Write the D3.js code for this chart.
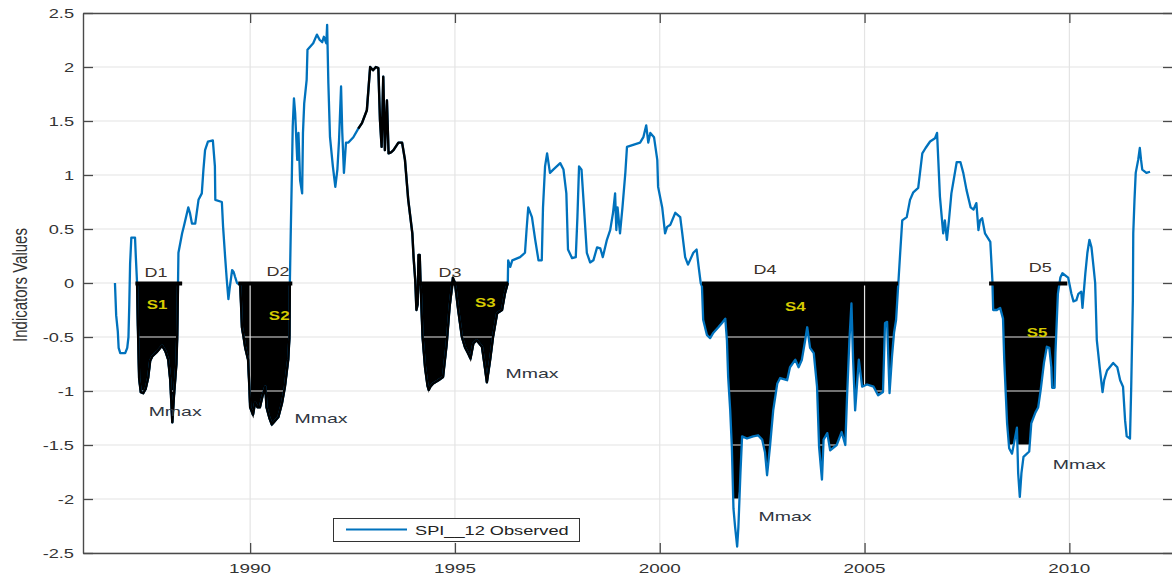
<!DOCTYPE html>
<html>
<head>
<meta charset="utf-8">
<script src="https://cdn.jsdelivr.net/npm/d3@7"></script>
<style>
  body { margin: 0; background: #fff; }
  svg { display: block; }
  text { font-family: "Liberation Sans", Arial, Helvetica, sans-serif; }
</style>
</head>
<body>
<svg id="chart" width="1172" height="577"></svg>
<script>
// SPI-12 observed series (decimal year, index value)
const spiYears = [
  1986.70,1986.73,1986.77,1986.79,1986.83,1986.95,1987.00,1987.03,1987.05,1987.07,1987.10,1987.19,1987.21,1987.24,
  1987.26,1987.29,1987.33,1987.39,1987.45,1987.51,1987.56,1987.61,1987.72,1987.85,1987.93,1988.00,1988.05,
  1988.10,1988.14,1988.17,1988.20,1988.22,1988.24,1988.25,1988.34,1988.38,1988.46,1988.49,1988.53,1988.58,
  1988.66,1988.74,1988.82,1988.86,1988.90,1988.97,1989.09,1989.14,1989.15,1989.31,1989.34,1989.39,1989.43,
  1989.47,1989.50,1989.56,1989.60,1989.63,1989.68,1989.76,1989.80,1989.84,1989.88,1989.95,1989.98,1990.00,
  1990.07,1990.12,1990.18,1990.24,1990.30,1990.37,1990.40,1990.47,1990.53,1990.60,1990.69,1990.78,1990.85,
  1990.93,1990.96,1990.97,1990.99,1991.02,1991.04,1991.07,1991.10,1991.15,1991.18,1991.22,1991.27,1991.29,1991.32,
  1991.38,1991.40,1991.54,1991.63,1991.70,1991.76,1991.80,1991.86,1991.88,1991.91,1991.95,1992.02,1992.08,
  1992.13,1992.17,1992.22,1992.25,1992.29,1992.34,1992.40,1992.52,1992.64,1992.73,1992.85,1992.93,1993.00,
  1993.07,1993.13,1993.17,1993.21,1993.25,1993.29,1993.34,1993.38,1993.44,1993.50,1993.62,1993.71,1993.78,
  1993.86,1993.96,1993.99,1994.03,1994.06,1994.09,1994.11,1994.14,1994.17,1994.21,1994.27,1994.33,1994.36,
  1994.40,1994.47,1994.60,1994.71,1994.80,1994.87,1994.95,1995.00,1995.08,1995.17,1995.25,1995.32,1995.38,
  1995.45,1995.53,1995.66,1995.72,1995.78,1995.86,1995.93,1996.03,1996.15,1996.22,1996.29,1996.30,1996.35,
  1996.40,1996.59,1996.71,1996.75,1996.79,1996.88,1996.96,1997.04,1997.12,1997.15,1997.20,1997.25,1997.32,
  1997.40,1997.57,1997.65,1997.72,1997.76,1997.86,1997.95,1997.99,1998.03,1998.09,1998.15,1998.22,1998.30,
  1998.38,1998.47,1998.55,1998.61,1998.71,1998.79,1998.86,1998.91,1998.94,1998.97,1999.03,1999.09,1999.16,
  1999.20,1999.52,1999.60,1999.67,1999.72,1999.77,1999.86,1999.94,1999.96,2000.06,2000.13,2000.18,2000.26,
  2000.38,2000.50,2000.54,2000.62,2000.69,2000.82,2000.90,2000.95,2001.00,2001.03,2001.06,2001.15,2001.23,
  2001.31,2001.43,2001.52,2001.60,2001.64,2001.67,2001.72,2001.76,2001.80,2001.84,2001.89,2001.92,2001.97,
  2002.01,2002.13,2002.28,2002.40,2002.50,2002.57,2002.62,2002.69,2002.77,2002.87,2002.94,2003.11,2003.18,
  2003.31,2003.39,2003.47,2003.55,2003.60,2003.67,2003.76,2003.84,2003.89,2003.96,2004.00,2004.09,2004.16,
  2004.32,2004.44,2004.53,2004.57,2004.63,2004.68,2004.72,2004.77,2004.86,2004.94,2005.06,2005.22,2005.33,
  2005.45,2005.50,2005.55,2005.61,2005.67,2005.72,2005.77,2005.82,2005.87,2005.92,2006.03,2006.11,2006.19,
  2006.31,2006.41,2006.49,2006.60,2006.72,2006.77,2006.80,2006.84,2006.92,2006.96,2007.01,2007.06,2007.12,
  2007.25,2007.34,2007.41,2007.49,2007.59,2007.66,2007.73,2007.78,2007.82,2007.87,2007.94,2008.07,2008.12,
  2008.14,2008.23,2008.31,2008.38,2008.41,2008.45,2008.48,2008.53,2008.60,2008.65,2008.72,2008.75,2008.79,
  2008.83,2008.88,2009.02,2009.07,2009.17,2009.24,2009.30,2009.38,2009.45,2009.51,2009.56,2009.58,2009.64,
  2009.66,2009.72,2009.78,2009.83,2009.97,2010.05,2010.10,2010.17,2010.22,2010.29,2010.32,2010.39,2010.44,
  2010.49,2010.54,2010.59,2010.63,2010.67,2010.74,2010.81,2010.85,2010.92,2011.07,2011.17,2011.24,2011.31,
  2011.36,2011.40,2011.48,2011.51,2011.55,2011.56,2011.59,2011.62,2011.68,2011.72,2011.75,2011.78,2011.88,
  2011.97
];
const spiValues = [
  0.00,-0.30,-0.45,-0.60,-0.65,-0.65,-0.60,-0.50,-0.20,0.18,0.42,0.42,0.24,0.00,
  -0.40,-0.88,-1.01,-1.02,-0.98,-0.88,-0.72,-0.68,-0.64,-0.58,-0.63,-0.71,-0.90,
  -1.29,-1.05,-0.90,-0.75,-0.50,0.00,0.28,0.46,0.52,0.65,0.70,0.65,0.55,
  0.55,0.77,0.83,1.05,1.23,1.31,1.32,1.08,0.77,0.75,0.52,0.24,0.03,
  -0.15,-0.05,0.12,0.10,0.06,0.00,-0.02,-0.41,-0.50,-0.60,-0.71,-0.95,-1.15,
  -1.22,-1.11,-1.15,-1.15,-1.05,-0.96,-1.15,-1.25,-1.31,-1.28,-1.24,-1.11,-0.96,
  -0.71,-0.50,0.00,0.43,1.02,1.45,1.71,1.57,1.14,1.39,0.95,0.83,1.39,1.66,
  1.88,2.16,2.22,2.30,2.25,2.23,2.28,2.22,2.39,1.85,1.35,1.08,0.89,
  1.05,1.32,1.82,1.39,1.02,1.30,1.30,1.35,1.43,1.48,1.60,2.00,1.97,
  2.00,1.99,1.51,1.26,1.91,1.23,1.69,1.20,1.21,1.23,1.30,1.30,1.14,
  0.77,0.46,0.24,0.03,-0.25,-0.20,0.26,0.26,-0.10,-0.50,-0.78,-0.95,-0.99,
  -0.96,-0.93,-0.90,-0.87,-0.56,-0.22,0.05,0.00,-0.25,-0.50,-0.60,-0.65,-0.70,
  -0.56,-0.53,-0.59,-0.75,-0.92,-0.71,-0.50,-0.28,-0.25,-0.10,0.00,0.21,0.15,
  0.21,0.24,0.28,0.50,0.70,0.61,0.40,0.21,0.21,0.70,1.08,1.20,1.02,
  1.05,1.11,1.05,0.83,0.31,0.23,0.24,0.61,1.08,1.05,0.70,0.28,0.19,
  0.21,0.33,0.32,0.24,0.40,0.49,0.65,0.83,0.49,0.70,0.46,0.70,1.02,
  1.26,1.30,1.35,1.46,1.30,1.39,1.35,1.14,0.89,0.70,0.46,0.52,0.54,
  0.65,0.61,0.49,0.24,0.17,0.28,0.31,0.15,0.00,-0.03,-0.34,-0.48,-0.51,
  -0.46,-0.41,-0.37,-0.33,-0.53,-0.87,-1.18,-1.52,-2.09,-2.26,-2.44,-2.26,-1.76,
  -1.42,-1.44,-1.42,-1.41,-1.45,-1.57,-1.78,-1.52,-1.18,-0.93,-0.88,-0.90,-0.78,
  -0.71,-0.78,-0.71,-0.53,-0.41,-0.60,-0.65,-0.96,-1.52,-1.82,-1.45,-1.39,-1.55,
  -1.50,-1.38,-1.50,-1.08,-0.53,-0.19,-0.71,-1.18,-0.71,-0.96,-0.94,-0.96,-1.04,
  -1.01,-0.37,-0.36,-1.02,-0.68,-0.46,-0.34,-0.03,0.28,0.58,0.61,0.77,0.84,
  0.88,1.20,1.25,1.31,1.34,1.39,1.14,0.80,0.46,0.58,0.40,0.58,0.83,
  1.12,1.12,1.02,0.86,0.70,0.68,0.74,0.49,0.58,0.60,0.46,0.38,0.03,
  -0.25,-0.25,-0.23,-0.33,-0.71,-1.05,-1.30,-1.53,-1.58,-1.48,-1.34,-1.76,-1.98,
  -1.76,-1.61,-1.56,-1.30,-1.20,-1.15,-0.99,-0.74,-0.59,-0.60,-0.78,-0.97,-0.97,
  -0.65,-0.10,0.05,0.09,0.05,-0.10,-0.17,-0.16,-0.10,-0.08,-0.23,0.09,0.28,
  0.40,0.33,0.15,0.00,-0.53,-0.78,-1.01,-0.90,-0.81,-0.74,-0.78,-0.90,-0.96,
  -1.27,-1.42,-1.44,-0.96,-0.16,0.46,0.77,1.02,1.14,1.25,1.14,1.05,1.02,
  1.03
];

// Drought events: duration window, deficit fill floor
const droughtNames  = ["D1", "D2", "D3", "D4", "D5"];
const droughtStart  = [1987.20, 1989.71, 1994.10, 2001.03, 2008.04];
const droughtEnd    = [1988.34, 1991.03, 1996.30, 2005.82, 2009.95];
const deficitFloor  = [-9, -9, -9, -2.0, -1.5];
const severityNames = ["S1", "S2", "S3", "S4", "S5"];

// Stretches of the series drawn in black instead of blue
const inkStart = [1987.24, 1989.71, 1992.64];
const inkEnd   = [1988.24, 1990.97, 1996.29];

// Annotation anchors (decimal year, index value)
const durationLabelX = [1987.70, 1990.68, 1994.88, 2002.57, 2009.29];
const durationLabelY = [0.09, 0.10, 0.09, 0.12, 0.14];
const severityLabelX = [1987.73, 1990.71, 1995.74, 2003.31, 2009.21];
const severityLabelY = [-0.20, -0.30, -0.18, -0.22, -0.46];
const peakLabelX = [1988.17, 1991.73, 1996.88, 2003.06, 2010.24];
const peakLabelY = [-1.19, -1.25, -0.84, -2.16, -1.68];

const xTickValues = [1990, 1995, 2000, 2005, 2010];
const xTickLabels = ["1990", "1995", "2000", "2005", "2010"];
const yTickValues = [-2.5, -2, -1.5, -1, -0.5, 0, 0.5, 1, 1.5, 2, 2.5];
const yTickLabels = ["-2.5", "-2", "-1.5", "-1", "-0.5", "0", "0.5", "1", "1.5", "2", "2.5"];

const seriesName = "SPI__12 Observed";
const yAxisTitle = "Indicators Values";

// ---------------------------------------------------------------
const svg = d3.select("#chart");
const plot = { left: 83, right: 1173, top: 13, bottom: 553 };
const BLUE = "#0072BD";
const AXIS = "#4a4a4a";
const TEXT = "#333333";
const GRID = "#e4e4e4";
const STRETCH = 1.4;

const x = d3.scaleLinear().domain([1985.92, 2012.53]).range([plot.left, plot.right]);
const y = d3.scaleLinear().domain([-2.5, 2.5]).range([plot.bottom, plot.top]);

const series = spiYears.map((t, i) => ({ t, v: spiValues[i] }));

const line = d3.line().x(d => x(d.t)).y(d => y(d.v));

function stretchedText(parent, px, py, str, opts) {
  const g = parent.append("g").attr("transform", `translate(${px},${py}) scale(${opts.sx || STRETCH},1)`);
  return g.append("text")
    .attr("x", 0).attr("y", 0)
    .attr("dy", opts.dy || "0.35em")
    .attr("text-anchor", opts.anchor || "middle")
    .attr("font-size", opts.size || 13)
    .attr("font-weight", opts.weight || "normal")
    .attr("fill", opts.fill || TEXT)
    .text(str);
}

svg.append("defs").append("clipPath").attr("id", "plotClip")
  .append("rect").attr("x", plot.left).attr("y", plot.top)
  .attr("width", plot.right - plot.left).attr("height", plot.bottom - plot.top);

const gPlot = svg.append("g").attr("clip-path", "url(#plotClip)");

// Deficit areas between zero and the series within each drought window
const deficitArea = (k) => d3.area()
  .defined(d => d.t >= droughtStart[k] && d.t <= droughtEnd[k])
  .x(d => x(d.t))
  .y0(y(0))
  .y1(d => y(Math.max(Math.min(d.v, 0), deficitFloor[k])));

const fills = gPlot.append("g");
droughtNames.forEach((name, k) => {
  fills.append("path")
    .datum(series)
    .attr("d", deficitArea(k))
    .attr("fill", "#000")
    .attr("stroke", k < 3 ? "#000" : "none")
    .attr("stroke-width", 2);
});

// Grid (sits over the deficit areas, under the series)
const grid = gPlot.append("g");
grid.selectAll("line.h").data(yTickValues).join("line")
  .attr("x1", plot.left).attr("x2", plot.right)
  .attr("y1", d => y(d)).attr("y2", d => y(d))
  .attr("stroke", GRID).attr("stroke-width", 1.2);
grid.selectAll("line.v").data(xTickValues).join("line")
  .attr("y1", plot.top).attr("y2", plot.bottom)
  .attr("x1", d => x(d)).attr("x2", d => x(d))
  .attr("stroke", GRID).attr("stroke-width", 1.2);

// Observed series
gPlot.append("path").datum(series)
  .attr("d", line).attr("fill", "none")
  .attr("stroke", BLUE).attr("stroke-width", 2.3).attr("stroke-linejoin", "round");

// Black-inked stretches drawn over the series
inkStart.forEach((s, k) => {
  gPlot.append("path").datum(series)
    .attr("d", line.defined(d => d.t >= s && d.t <= inkEnd[k]))
    .attr("fill", "none").attr("stroke", "#000").attr("stroke-width", 2.4)
    .attr("stroke-linejoin", "round");
});
line.defined(() => true);

// Duration bars on the zero line
gPlot.append("g").selectAll("line").data(droughtNames).join("line")
  .attr("x1", (d, k) => x(droughtStart[k])).attr("x2", (d, k) => x(droughtEnd[k]))
  .attr("y1", y(0) + 0.5).attr("y2", y(0) + 0.5)
  .attr("stroke", "#000").attr("stroke-width", 4);

// Axes (box with inward ticks)
const axisG = svg.append("g").attr("color", AXIS);
axisG.append("g").attr("transform", `translate(${plot.left},0)`)
  .call(d3.axisLeft(y).tickValues(yTickValues).tickSize(-10).tickSizeOuter(0).tickFormat(""));
axisG.append("g").attr("transform", `translate(${plot.right},0)`)
  .call(d3.axisRight(y).tickValues(yTickValues).tickSize(-10).tickSizeOuter(0).tickFormat(""));
axisG.append("g").attr("transform", `translate(0,${plot.bottom})`)
  .call(d3.axisBottom(x).tickValues(xTickValues).tickSize(-10).tickSizeOuter(0).tickFormat(""));
axisG.append("g").attr("transform", `translate(0,${plot.top})`)
  .call(d3.axisTop(x).tickValues(xTickValues).tickSize(-10).tickSizeOuter(0).tickFormat(""));
axisG.selectAll(".domain").attr("stroke-width", 1.4);
axisG.selectAll(".tick line").attr("stroke-width", 1.3);

// Tick labels
yTickValues.forEach((v, i) => {
  stretchedText(svg, plot.left - 9, y(v), yTickLabels[i], { anchor: "end", size: 13 });
});
xTickValues.forEach((v, i) => {
  stretchedText(svg, x(v), plot.bottom + 15, xTickLabels[i], { size: 13.5 });
});

// Y axis title
svg.append("g").attr("transform", `translate(20,${(plot.top + plot.bottom) / 2 + 2}) rotate(-90) scale(1,1.3)`)
  .append("text").attr("text-anchor", "middle").attr("dy", "0.35em")
  .attr("font-size", 15).attr("fill", TEXT).text(yAxisTitle);

// Event annotations
droughtNames.forEach((name, k) => {
  stretchedText(svg, x(durationLabelX[k]), y(durationLabelY[k]), name, { size: 12, sx: 1.5, fill: "#3b3129" });
  stretchedText(svg, x(severityLabelX[k]), y(severityLabelY[k]), severityNames[k],
    { size: 13, sx: 1.3, weight: "bold", fill: "#d6cb00" });
  stretchedText(svg, x(peakLabelX[k]), y(peakLabelY[k]), "Mmax", { size: 13, sx: 1.5, fill: "#2f3540" });
});

// Legend
const legend = svg.append("g");
legend.append("rect").attr("x", 333.5).attr("y", 518.5).attr("width", 246).attr("height", 23)
  .attr("fill", "#fff").attr("stroke", "#333").attr("stroke-width", 1);
legend.append("line").attr("x1", 346).attr("x2", 407).attr("y1", 529.5).attr("y2", 529.5)
  .attr("stroke", BLUE).attr("stroke-width", 2);
stretchedText(legend, 415, 530, seriesName, { anchor: "start", size: 13, fill: "#222" });
</script>
</body>
</html>
